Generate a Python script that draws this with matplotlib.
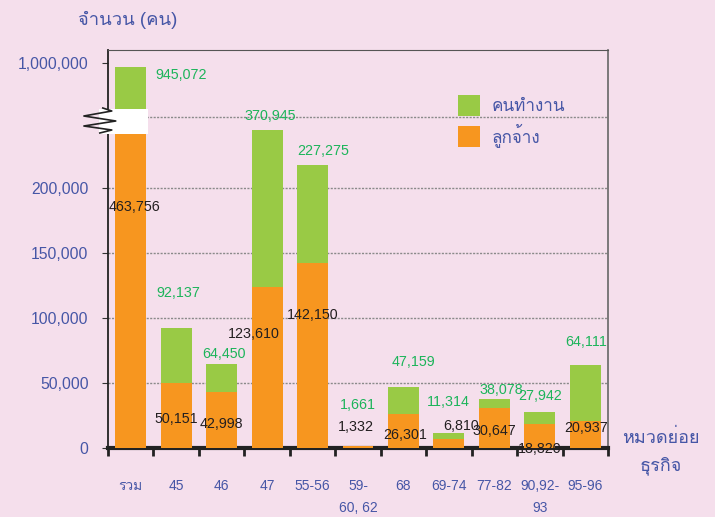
import numpy as np
import matplotlib
matplotlib.use('Agg')
import matplotlib.pyplot as plt
from matplotlib import font_manager
from matplotlib.ft2font import FT2Font
from matplotlib.patches import Patch, Rectangle
from matplotlib.transforms import blended_transform_factory

# ข้อมูล
categories = ['รวม', '45', '46', '47', '55-56', '59-\n60, 62', '68', '69-74', '77-82', '90,92-\n93', '95-96']
workers = [945072, 92137, 64450, 370945, 227275, 1661, 47159, 11314, 38078, 27942, 64111]    # คนทำงาน
employees = [463756, 50151, 42998, 123610, 142150, 1332, 26301, 6810, 30647, 18820, 20937]  # ลูกจ้าง
y_ticks = [0, 50000, 100000, 150000, 200000, 1000000]

# ตำแหน่งป้ายตัวเลข (pixel) เทียบกับยอดแท่ง
green_off = [(50, -8), (2, 35), (2, 10), (3, 14), (11, 14), (0, 41), (10, 25), (-1, 31), (7, 9), (0, 16), (1, 23)]
orange_off = [(4, -91), (0, -36), (0, -32), (-13, -47), (0, -52), (-2, 19), (2, -21), (12, 13), (0, -23), (0, -25), (1, -7)]

BG = '#f5dfec'
GREEN = '#99ca45'
ORANGE = '#f7961f'
BLUE = '#4656a6'
NUMGREEN = '#1cb45a'


def thai_font():
    for f in font_manager.fontManager.ttflist:
        try:
            if 0x0E08 in FT2Font(f.fname).get_charmap():
                return f.name
        except Exception:
            pass
    return None


tf = thai_font()
fams = ['Liberation Sans'] + ([tf] if tf else []) + ['DejaVu Sans']
plt.rcParams['font.family'] = fams

# แกน y แบบบีบช่วงบน 200,000
K = 108.0
def fwd(v):
    v = np.asarray(v, dtype=float)
    return np.where(v <= 200000, v, 200000 + K * np.sqrt(np.clip(v - 200000, 0, None)))

def inv(f):
    f = np.asarray(f, dtype=float)
    return np.where(f <= 200000, f, 200000 + ((np.clip(f, 200000, None) - 200000) / K) ** 2)


fig = plt.figure(figsize=(7.15, 5.17), dpi=100, facecolor=BG)
ax = fig.add_axes([108 / 715, 69 / 517, 500 / 715, 398 / 517])
ax.set_facecolor(BG)
ax.set_yscale('function', functions=(fwd, inv))
ax.set_ylim(0, 1171000)
ax.set_xlim(-0.5, len(categories) - 0.5)

x = np.arange(len(categories))
w = 0.68
ax.bar(x, workers, width=w, color=GREEN, zorder=2)
ax.bar(x, employees, width=w, color=ORANGE, zorder=3)

# เส้นกริด
for v in y_ticks[1:5]:
    ax.axhline(v, color='#8a8a8a', lw=1, ls=(0, (1.5, 1)), zorder=1)
ax.plot([0, 1], [0.832, 0.832], transform=ax.transAxes, color='#8a8a8a', lw=1, ls=(0, (1.5, 1)), zorder=1)

# สัญลักษณ์ตัดแกน
bt = blended_transform_factory(ax.transData, ax.transAxes)
ax.add_patch(Rectangle((-0.7, 0.79), 1.08, 0.062, transform=bt, facecolor='white',
                       edgecolor='none', zorder=4, clip_on=False))
zx = np.array([103, 112, 84, 116, 84, 112, 100])
zy = np.array([108, 111, 116, 121, 126, 130, 133])
ax.plot((zx - 131) / 45.6, (448 - zy) / 398, transform=bt, color='#222222', lw=1.2, zorder=5, clip_on=False)

# ป้ายตัวเลข
pt = 72 / 100
for i in range(len(categories)):
    dx, dy = green_off[i]
    ax.annotate(f'{workers[i]:,}', (x[i], workers[i]), xytext=(dx * pt, dy * pt), textcoords='offset points',
                ha='center', va='center', color=NUMGREEN, fontsize=10.3, zorder=6)
    dx, dy = orange_off[i]
    ax.annotate(f'{employees[i]:,}', (x[i], employees[i]), xytext=(dx * pt, dy * pt), textcoords='offset points',
                ha='center', va='center', color='#231f20', fontsize=10.3, zorder=6)

# แกน
ax.set_yticks(y_ticks)
ax.set_yticklabels([f'{v:,}' for v in y_ticks], color=BLUE, fontsize=11.3)
ax.tick_params(axis='y', length=4, color='#333333', pad=10)
ax.set_xticks(x)
ax.set_xticklabels(categories, color=BLUE, fontsize=10, linespacing=1.75, va='top')
ax.set_xticks(np.arange(len(categories) + 1) - 0.5, minor=True)
ax.tick_params(axis='x', which='major', length=0, pad=22)
ax.tick_params(axis='x', which='minor', length=6, width=2, color='#222222')

ax.spines['left'].set_color('#222222')
ax.spines['left'].set_linewidth(1.3)
ax.spines['bottom'].set_color('#222222')
ax.spines['bottom'].set_linewidth(3)
ax.spines['top'].set_color('#555555')
ax.spines['top'].set_linestyle((0, (2, 1)))
ax.spines['right'].set_color('#666666')
ax.spines['right'].set_linewidth(1.2)

fig.text(128 / 715, 1 - 20 / 517, 'จำนวน (คน)', color=BLUE, fontsize=13.3, ha='center', va='center')
fig.text(661 / 715, 1 - 452 / 517, 'หมวดย่อย\nธุรกิจ', color=BLUE, fontsize=13, ha='center', va='center',
         linespacing=1.7)

handles = [Patch(facecolor=GREEN, label='คนทำงาน'), Patch(facecolor=ORANGE, label='ลูกจ้าง')]
leg = ax.legend(handles=handles, loc='upper left', bbox_to_anchor=(0.67, 0.925), frameon=False,
                fontsize=12.3, handlelength=1.25, handleheight=1.45, labelspacing=0.45, handletextpad=0.7)
for t in leg.get_texts():
    t.set_color(BLUE)

fig.savefig('out.png', dpi=100, facecolor=BG)
